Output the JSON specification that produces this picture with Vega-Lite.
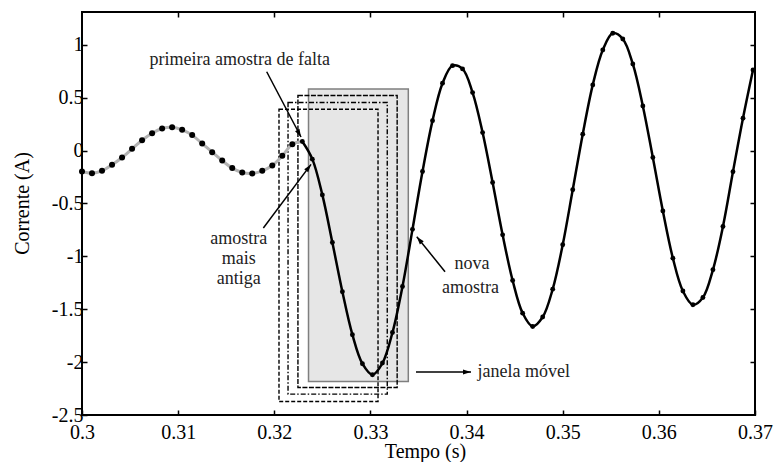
{
  "$schema": "https://vega.github.io/schema/vega-lite/v6.json",
  "width": 673,
  "height": 403,
  "autosize": {"type": "none"},
  "padding": {"left": 82, "top": 12, "right": 19, "bottom": 47},
  "background": "white",
  "config": {
    "view": {"stroke": "black", "strokeWidth": 2},
    "font": "Times New Roman",
    "axis": {"grid": false, "domain": false, "labelFont": "Times New Roman", "titleFont": "Times New Roman"}
  },
  "datasets": {
    "samples": [
      {"k": 0, "t": 0.3, "i": -0.198},
      {"k": 1, "t": 0.3010417, "i": -0.214},
      {"k": 2, "t": 0.3020833, "i": -0.192},
      {"k": 3, "t": 0.303125, "i": -0.135},
      {"k": 4, "t": 0.3041667, "i": -0.066},
      {"k": 5, "t": 0.3052083, "i": 0.016},
      {"k": 6, "t": 0.30625, "i": 0.098},
      {"k": 7, "t": 0.3072917, "i": 0.164},
      {"k": 8, "t": 0.3083333, "i": 0.208},
      {"k": 9, "t": 0.309375, "i": 0.221},
      {"k": 10, "t": 0.3104167, "i": 0.196},
      {"k": 11, "t": 0.3114583, "i": 0.146},
      {"k": 12, "t": 0.3125, "i": 0.066},
      {"k": 13, "t": 0.3135417, "i": -0.015},
      {"k": 14, "t": 0.3145833, "i": -0.095},
      {"k": 15, "t": 0.315625, "i": -0.166},
      {"k": 16, "t": 0.3166667, "i": -0.208},
      {"k": 17, "t": 0.3177083, "i": -0.217},
      {"k": 18, "t": 0.31875, "i": -0.192},
      {"k": 19, "t": 0.3197917, "i": -0.142},
      {"k": 20, "t": 0.3208333, "i": -0.05},
      {"k": 21, "t": 0.321875, "i": 0.06},
      {"k": 22, "t": 0.3229167, "i": 0.085},
      {"k": 23, "t": 0.3239583, "i": -0.081},
      {"k": 24, "t": 0.325, "i": -0.419},
      {"k": 25, "t": 0.3260417, "i": -0.869},
      {"k": 26, "t": 0.3270833, "i": -1.335},
      {"k": 27, "t": 0.328125, "i": -1.741},
      {"k": 28, "t": 0.3291667, "i": -2.015},
      {"k": 29, "t": 0.3302083, "i": -2.119},
      {"k": 30, "t": 0.33125, "i": -2.009},
      {"k": 31, "t": 0.3322917, "i": -1.72},
      {"k": 32, "t": 0.3333333, "i": -1.285},
      {"k": 33, "t": 0.334375, "i": -0.745},
      {"k": 34, "t": 0.3354167, "i": -0.198},
      {"k": 35, "t": 0.3364583, "i": 0.283},
      {"k": 36, "t": 0.3375, "i": 0.637},
      {"k": 37, "t": 0.3385417, "i": 0.803},
      {"k": 38, "t": 0.3395833, "i": 0.772},
      {"k": 39, "t": 0.340625, "i": 0.548},
      {"k": 40, "t": 0.3416667, "i": 0.17},
      {"k": 41, "t": 0.3427083, "i": -0.302},
      {"k": 42, "t": 0.34375, "i": -0.797},
      {"k": 43, "t": 0.3447917, "i": -1.228},
      {"k": 44, "t": 0.3458333, "i": -1.537},
      {"k": 45, "t": 0.346875, "i": -1.663},
      {"k": 46, "t": 0.3479167, "i": -1.574},
      {"k": 47, "t": 0.3489583, "i": -1.31},
      {"k": 48, "t": 0.35, "i": -0.891},
      {"k": 49, "t": 0.3510417, "i": -0.371},
      {"k": 50, "t": 0.3520833, "i": 0.155},
      {"k": 51, "t": 0.353125, "i": 0.621},
      {"k": 52, "t": 0.3541667, "i": 0.951},
      {"k": 53, "t": 0.3552083, "i": 1.109},
      {"k": 54, "t": 0.35625, "i": 1.055},
      {"k": 55, "t": 0.3572917, "i": 0.819},
      {"k": 56, "t": 0.3583333, "i": 0.422},
      {"k": 57, "t": 0.359375, "i": -0.066},
      {"k": 58, "t": 0.3604167, "i": -0.571},
      {"k": 59, "t": 0.3614583, "i": -1.017},
      {"k": 60, "t": 0.3625, "i": -1.328},
      {"k": 61, "t": 0.3635417, "i": -1.458},
      {"k": 62, "t": 0.3645833, "i": -1.389},
      {"k": 63, "t": 0.365625, "i": -1.127},
      {"k": 64, "t": 0.3666667, "i": -0.718},
      {"k": 65, "t": 0.3677083, "i": -0.2},
      {"k": 66, "t": 0.36875, "i": 0.306},
      {"k": 67, "t": 0.3697917, "i": 0.762}
    ],
    "windows": [
      {"w": "G", "t1": 0.32356, "t2": 0.33394, "i1": -2.183, "i2": 0.582},
      {"w": "A", "t1": 0.32049, "t2": 0.33079, "i1": -2.372, "i2": 0.39},
      {"w": "B", "t1": 0.32143, "t2": 0.33175, "i1": -2.303, "i2": 0.455},
      {"w": "C", "t1": 0.32246, "t2": 0.33278, "i1": -2.24, "i2": 0.521}
    ],
    "arrows": [
      {"id": "falta", "t": 0.31921, "i": 0.745, "t2": 0.32278, "i2": 0.128},
      {"id": "antiga", "t": 0.31886, "i": -0.732, "t2": 0.32382, "i2": -0.131},
      {"id": "nova", "t": 0.33776, "i": -1.145, "t2": 0.33482, "i2": -0.814},
      {"id": "janela", "t": 0.33474, "i": -2.094, "t2": 0.34046, "i2": -2.094}
    ],
    "notes": [
      {"text": "primeira amostra de falta", "t": 0.3164, "i": 0.809},
      {"text": "amostra", "t": 0.3163, "i": -0.88},
      {"text": "mais", "t": 0.3163, "i": -1.07},
      {"text": "antiga", "t": 0.3163, "i": -1.265},
      {"text": "nova", "t": 0.34057, "i": -1.118},
      {"text": "amostra", "t": 0.34041, "i": -1.343},
      {"text": "janela móvel", "t": 0.34595, "i": -2.138}
    ]
  },
  "resolve": {"axis": {"x": "independent", "y": "independent"}},
  "layer": [
    {
      "data": {"name": "windows"},
      "transform": [{"filter": "datum.w === 'G'"}],
      "mark": {"type": "rect", "fill": "#e6e6e6", "stroke": "#7f7f7f", "strokeWidth": 1.5},
      "encoding": {
        "x": {"field": "t1", "type": "quantitative", "scale": {"domain": [0.3, 0.37], "nice": false, "zero": false}, "axis": null},
        "x2": {"field": "t2"},
        "y": {"field": "i1", "type": "quantitative", "scale": {"domain": [-2.5, 1.31], "nice": false, "zero": false}, "axis": null},
        "y2": {"field": "i2"}
      }
    },
    {
      "data": {"name": "windows"},
      "transform": [{"filter": "datum.w === 'A'"}],
      "mark": {"type": "rect", "fill": null, "fillOpacity": 0, "stroke": "black", "strokeWidth": 1.4, "strokeDash": [4, 2]},
      "encoding": {
        "x": {"field": "t1", "type": "quantitative", "scale": {"domain": [0.3, 0.37], "nice": false, "zero": false}, "axis": null},
        "x2": {"field": "t2"},
        "y": {"field": "i1", "type": "quantitative", "scale": {"domain": [-2.5, 1.31], "nice": false, "zero": false}, "axis": null},
        "y2": {"field": "i2"}
      }
    },
    {
      "data": {"name": "windows"},
      "transform": [{"filter": "datum.w === 'B'"}],
      "mark": {"type": "rect", "fill": null, "fillOpacity": 0, "stroke": "black", "strokeWidth": 1.4, "strokeDash": [5, 2, 1.5, 2]},
      "encoding": {
        "x": {"field": "t1", "type": "quantitative", "scale": {"domain": [0.3, 0.37], "nice": false, "zero": false}, "axis": null},
        "x2": {"field": "t2"},
        "y": {"field": "i1", "type": "quantitative", "scale": {"domain": [-2.5, 1.31], "nice": false, "zero": false}, "axis": null},
        "y2": {"field": "i2"}
      }
    },
    {
      "data": {"name": "windows"},
      "transform": [{"filter": "datum.w === 'C'"}],
      "mark": {"type": "rect", "fill": null, "fillOpacity": 0, "stroke": "black", "strokeWidth": 1.4, "strokeDash": [5, 1.5]},
      "encoding": {
        "x": {"field": "t1", "type": "quantitative", "scale": {"domain": [0.3, 0.37], "nice": false, "zero": false}, "axis": null},
        "x2": {"field": "t2"},
        "y": {"field": "i1", "type": "quantitative", "scale": {"domain": [-2.5, 1.31], "nice": false, "zero": false}, "axis": null},
        "y2": {"field": "i2"}
      }
    },
    {
      "data": {"name": "samples"},
      "transform": [{"filter": "datum.k <= 22"}],
      "mark": {"type": "line", "color": "#b3b3b3", "strokeWidth": 3, "interpolate": "catmull-rom"},
      "encoding": {
        "x": {"field": "t", "type": "quantitative", "scale": {"domain": [0.3, 0.37], "nice": false, "zero": false},
          "axis": {"orient": "bottom", "values": [0.3, 0.31, 0.32, 0.33, 0.34, 0.35, 0.36, 0.37], "labelExpr": "datum.value + ''",
            "labelFlush": false, "labelOverlap": false, "tickSize": -5, "tickWidth": 1.5, "tickColor": "black",
            "labelFontSize": 20, "labelColor": "black", "labelPadding": 12,
            "title": "Tempo (s)", "titleFontSize": 20, "titleFontWeight": "normal", "titleColor": "black",
            "titleX": 343, "titleY": 36, "titleBaseline": "middle", "titleAnchor": "middle"}},
        "y": {"field": "i", "type": "quantitative", "scale": {"domain": [-2.5, 1.31], "nice": false, "zero": false},
          "axis": {"orient": "left", "values": [-2.5, -2, -1.5, -1, -0.5, 0, 0.5, 1], "labelExpr": "datum.value + ''",
            "labelFlush": false, "labelOverlap": false, "tickSize": -5, "tickWidth": 1.5, "tickColor": "black",
            "labelFontSize": 20, "labelColor": "black", "labelPadding": 4,
            "title": "Corrente (A)", "titleFontSize": 20, "titleFontWeight": "normal", "titleColor": "black",
            "titleX": -60, "titleY": 191, "titleBaseline": "middle", "titleAnchor": "middle", "titleAngle": -90}}
      }
    },
    {
      "data": {"name": "samples"},
      "transform": [{"filter": "datum.k >= 22"}],
      "mark": {"type": "line", "color": "black", "strokeWidth": 2.5, "interpolate": "catmull-rom"},
      "encoding": {
        "x": {"field": "t", "type": "quantitative", "scale": {"domain": [0.3, 0.37], "nice": false, "zero": false}, "axis": null},
        "y": {"field": "i", "type": "quantitative", "scale": {"domain": [-2.5, 1.31], "nice": false, "zero": false}, "axis": null}
      }
    },
    {
      "data": {"name": "samples"},
      "transform": [{"filter": "datum.k <= 21"}],
      "mark": {"type": "point", "shape": "circle", "filled": true, "color": "black", "opacity": 1, "size": 36},
      "encoding": {
        "x": {"field": "t", "type": "quantitative", "scale": {"domain": [0.3, 0.37], "nice": false, "zero": false}, "axis": null},
        "y": {"field": "i", "type": "quantitative", "scale": {"domain": [-2.5, 1.31], "nice": false, "zero": false}, "axis": null}
      }
    },
    {
      "data": {"name": "samples"},
      "transform": [{"filter": "datum.k >= 22"}],
      "mark": {"type": "point", "shape": "circle", "filled": true, "color": "black", "opacity": 1, "size": 24},
      "encoding": {
        "x": {"field": "t", "type": "quantitative", "scale": {"domain": [0.3, 0.37], "nice": false, "zero": false},
          "axis": {"orient": "top", "values": [0.31, 0.32, 0.33, 0.34, 0.35, 0.36], "labels": false, "title": null,
            "tickSize": -5, "tickWidth": 1.5, "tickColor": "black"}},
        "y": {"field": "i", "type": "quantitative", "scale": {"domain": [-2.5, 1.31], "nice": false, "zero": false},
          "axis": {"orient": "right", "values": [-2, -1.5, -1, -0.5, 0, 0.5, 1], "labels": false, "title": null,
            "tickSize": -5, "tickWidth": 1.5, "tickColor": "black"}}
      }
    },
    {
      "data": {"name": "arrows"},
      "mark": {"type": "rule", "color": "black", "strokeWidth": 1.5},
      "encoding": {
        "x": {"field": "t", "type": "quantitative", "scale": {"domain": [0.3, 0.37], "nice": false, "zero": false}, "axis": null},
        "x2": {"field": "t2"},
        "y": {"field": "i", "type": "quantitative", "scale": {"domain": [-2.5, 1.31], "nice": false, "zero": false}, "axis": null},
        "y2": {"field": "i2"}
      }
    },
    {
      "data": {"name": "arrows"},
      "transform": [{"filter": "datum.id === 'falta'"}],
      "mark": {"type": "point", "shape": "M0,0L-0.5,1.6L0.5,1.6Z", "size": 100, "filled": true, "color": "black", "opacity": 1, "angle": 152},
      "encoding": {
        "x": {"field": "t2", "type": "quantitative", "scale": {"domain": [0.3, 0.37], "nice": false, "zero": false}, "axis": null},
        "y": {"field": "i2", "type": "quantitative", "scale": {"domain": [-2.5, 1.31], "nice": false, "zero": false}, "axis": null}
      }
    },
    {
      "data": {"name": "arrows"},
      "transform": [{"filter": "datum.id === 'antiga'"}],
      "mark": {"type": "point", "shape": "M0,0L-0.5,1.6L0.5,1.6Z", "size": 100, "filled": true, "color": "black", "opacity": 1, "angle": 37},
      "encoding": {
        "x": {"field": "t2", "type": "quantitative", "scale": {"domain": [0.3, 0.37], "nice": false, "zero": false}, "axis": null},
        "y": {"field": "i2", "type": "quantitative", "scale": {"domain": [-2.5, 1.31], "nice": false, "zero": false}, "axis": null}
      }
    },
    {
      "data": {"name": "arrows"},
      "transform": [{"filter": "datum.id === 'nova'"}],
      "mark": {"type": "point", "shape": "M0,0L-0.5,1.6L0.5,1.6Z", "size": 100, "filled": true, "color": "black", "opacity": 1, "angle": 321},
      "encoding": {
        "x": {"field": "t2", "type": "quantitative", "scale": {"domain": [0.3, 0.37], "nice": false, "zero": false}, "axis": null},
        "y": {"field": "i2", "type": "quantitative", "scale": {"domain": [-2.5, 1.31], "nice": false, "zero": false}, "axis": null}
      }
    },
    {
      "data": {"name": "arrows"},
      "transform": [{"filter": "datum.id === 'janela'"}],
      "mark": {"type": "point", "shape": "M0,0L-0.5,1.6L0.5,1.6Z", "size": 100, "filled": true, "color": "black", "opacity": 1, "angle": 90},
      "encoding": {
        "x": {"field": "t2", "type": "quantitative", "scale": {"domain": [0.3, 0.37], "nice": false, "zero": false}, "axis": null},
        "y": {"field": "i2", "type": "quantitative", "scale": {"domain": [-2.5, 1.31], "nice": false, "zero": false}, "axis": null}
      }
    },
    {
      "data": {"name": "notes"},
      "mark": {"type": "text", "font": "Times New Roman", "fontSize": 18, "color": "#222222", "align": "center", "baseline": "alphabetic"},
      "encoding": {
        "x": {"field": "t", "type": "quantitative", "scale": {"domain": [0.3, 0.37], "nice": false, "zero": false}, "axis": null},
        "y": {"field": "i", "type": "quantitative", "scale": {"domain": [-2.5, 1.31], "nice": false, "zero": false}, "axis": null},
        "text": {"field": "text", "type": "nominal"}
      }
    }
  ]
}
